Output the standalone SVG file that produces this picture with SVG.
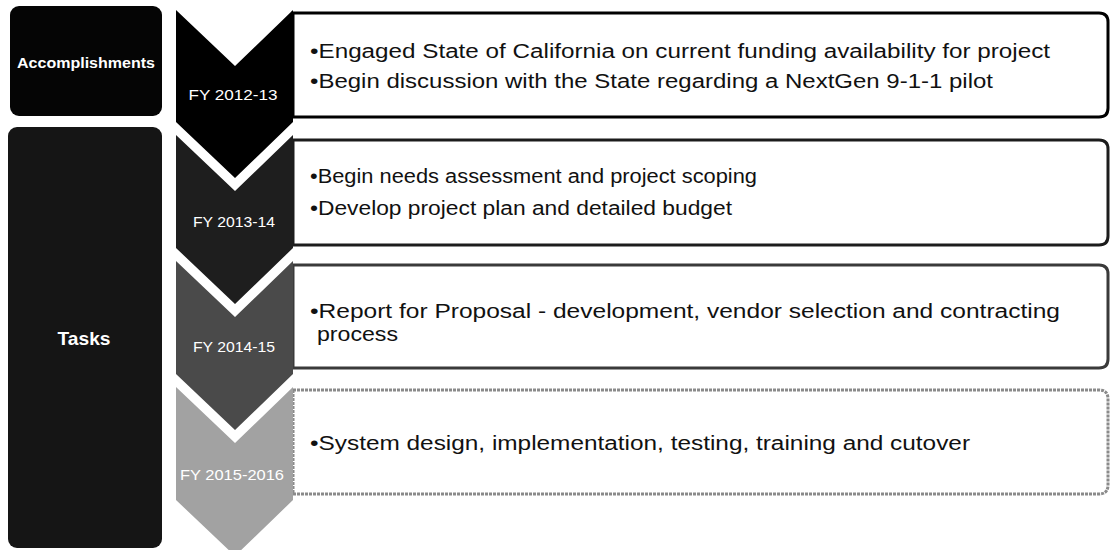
<svg xmlns="http://www.w3.org/2000/svg" width="1111" height="550" viewBox="0 0 1111 550">
<style>
.lbl{font-family:"Liberation Sans",Arial,sans-serif;fill:#fff}
.bold{font-weight:bold}
.fy{font-size:14px;text-anchor:middle}
.body{font-family:"Liberation Sans",Arial,sans-serif;font-size:20px;fill:#111}
.box{fill:#fff;stroke-width:3}
</style>
<rect width="1111" height="550" fill="#fff"/>
<g id="accomplishments">
<rect x="10" y="6" width="152" height="110" rx="9" fill="#050505"/>
<text class="lbl bold" x="86" y="68" font-size="15" text-anchor="middle" textLength="138" lengthAdjust="spacingAndGlyphs">Accomplishments</text>
</g>
<g id="tasks">
<rect x="8" y="127" width="154" height="421" rx="9" fill="#151515"/>
<text class="lbl bold" x="84" y="345" font-size="19" text-anchor="middle" textLength="53" lengthAdjust="spacingAndGlyphs">Tasks</text>
</g>
<g id="box1">
<path class="box" stroke="#000" d="M293,13 H1099 Q1108,13 1108,22 V108 Q1108,117 1099,117 H293 Z"/>
<text class="body" x="310" y="58" textLength="740" lengthAdjust="spacingAndGlyphs">•Engaged State of California on current funding availability for project</text>
<text class="body" x="310" y="88" textLength="683" lengthAdjust="spacingAndGlyphs">•Begin discussion with the State regarding a NextGen 9-1-1 pilot</text>
</g>
<g id="box2">
<path class="box" stroke="#1c1c1c" d="M293,140 H1099 Q1108,140 1108,149 V236 Q1108,245 1099,245 H293 Z"/>
<text class="body" x="310" y="183" textLength="447" lengthAdjust="spacingAndGlyphs">•Begin needs assessment and project scoping</text>
<text class="body" x="310" y="215" textLength="422" lengthAdjust="spacingAndGlyphs">•Develop project plan and detailed budget</text>
</g>
<g id="box3">
<path class="box" stroke="#3a3a3a" d="M293,265 H1099 Q1108,265 1108,274 V359 Q1108,368 1099,368 H293 Z"/>
<text class="body" x="310" y="318" textLength="750" lengthAdjust="spacingAndGlyphs">•Report for Proposal -  development, vendor selection and contracting</text>
<text class="body" x="317" y="341" textLength="81" lengthAdjust="spacingAndGlyphs">process</text>
</g>
<g id="box4">
<path class="box" stroke="#8a8a8a" stroke-width="2" stroke-dasharray="3 1" d="M293,390 H1099 Q1108,390 1108,399 V485 Q1108,494 1099,494 H293 Z"/>
<text class="body" x="310" y="450" textLength="660" lengthAdjust="spacingAndGlyphs">•System design, implementation, testing, training and cutover</text>
</g>
<g id="fy1">
<polygon points="176,10 235,66 293,10 293,122 235,178 176,122" fill="#000"/>
<text class="lbl fy" x="233" y="100" textLength="89" lengthAdjust="spacingAndGlyphs">FY 2012-13</text>
</g>
<g id="fy2">
<polygon points="176,135 235,191 293,135 293,248 235,304 176,248" fill="#1e1e1e"/>
<text class="lbl fy" x="234" y="227" textLength="82" lengthAdjust="spacingAndGlyphs">FY 2013-14</text>
</g>
<g id="fy3">
<polygon points="176,261 235,317 293,261 293,374 235,430 176,374" fill="#4a4a4a"/>
<text class="lbl fy" x="234" y="352" textLength="82" lengthAdjust="spacingAndGlyphs">FY 2014-15</text>
</g>
<g id="fy4">
<polygon points="176,387 235,443 293,387 293,500 235,556 176,500" fill="#a2a2a2"/>
<text class="lbl fy" x="232" y="480" textLength="104" lengthAdjust="spacingAndGlyphs">FY 2015-2016</text>
</g>
<g id="connectors"/>
</svg>
